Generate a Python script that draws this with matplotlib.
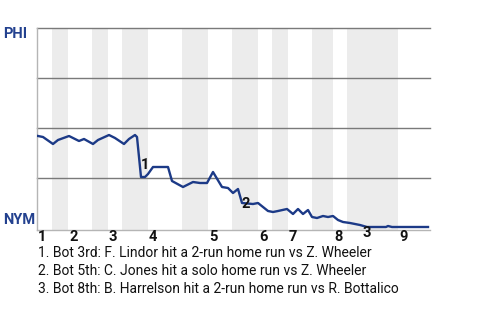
import matplotlib
matplotlib.use("Agg")
import matplotlib.pyplot as plt
from matplotlib.transforms import blended_transform_factory

plt.rcParams['font.family'] = ['Roboto', 'DejaVu Sans']

# event position (plate appearance axis) and PHI win probability
ev_x = [1, 6, 16, 21, 32, 42, 47, 56, 61, 72, 78, 87, 92, 98, 100, 104, 108, 111, 116, 131,
        135, 146, 156, 163, 170, 176, 185, 191, 196, 201, 205, 216, 221, 226, 231, 236, 241,
        250, 256, 261, 266, 271, 275, 280, 286, 291, 296, 301, 306, 313, 323, 330, 349, 351,
        355, 391]
phi_wp = [0.46, 0.455, 0.42, 0.44, 0.46, 0.435, 0.445, 0.42, 0.44, 0.465, 0.45, 0.42, 0.445,
          0.465, 0.455, 0.255, 0.255, 0.27, 0.305, 0.305, 0.235, 0.205, 0.23, 0.225, 0.225,
          0.28, 0.205, 0.2, 0.175, 0.195, 0.125, 0.12, 0.125, 0.105, 0.085, 0.08, 0.085,
          0.095, 0.07, 0.095, 0.07, 0.09, 0.055, 0.05, 0.06, 0.055, 0.06, 0.04, 0.03, 0.025,
          0.015, 0.005, 0.005, 0.01, 0.005, 0.005]

# half-inning boundaries (top 1st .. top 9th)
half_starts = [0, 15, 31, 55, 71, 85, 111, 145, 171, 195, 221, 235, 251, 275, 296, 310, 361, 393]
innings = ['1', '2', '3', '4', '5', '6', '7', '8', '9']

# key events: label, x, y
key_lbl = ['1', '2', '3']
key_x = [108, 209, 330]
key_y = [0.315, 0.12, -0.025]
notes = ["1. Bot 3rd: F. Lindor hit a 2-run home run vs Z. Wheeler",
         "2. Bot 5th: C. Jones hit a solo home run vs Z. Wheeler",
         "3. Bot 8th: B. Harrelson hit a 2-run home run vs R. Bottalico"]

fig = plt.figure(figsize=(4.8, 3.2), dpi=100)
ax = fig.add_axes([37/480, 1-230/320, 393/480, 202/320])
ax.set_xlim(0, 393)
ax.set_ylim(-0.01, 1.0)

# bottom halves shaded
for i in range(1, len(half_starts)-1, 2):
    ax.axvspan(half_starts[i], half_starts[i+1], color='#ececec', lw=0, zorder=0)

for g in [0.25, 0.5, 0.75, 1.0]:
    ax.axhline(g, color='#7a7a7a', lw=1, zorder=1, clip_on=False)

ax.plot(ev_x, phi_wp, color='#1c3a87', lw=1.7, zorder=3, solid_joinstyle='round')

for s in ['top', 'right']:
    ax.spines[s].set_visible(False)
for s in ['left', 'bottom']:
    ax.spines[s].set_color('#b5b5b5')
    ax.spines[s].set_linewidth(1)
ax.set_xticks([])
ax.set_yticks([])

tr = blended_transform_factory(ax.transData, ax.transAxes)
for k, lab in enumerate(innings):
    ax.text(half_starts[2*k] + 1, -7/202, lab, transform=tr, ha='left', va='center',
            fontsize=10.5, fontweight='bold', color='#111111')

for lab, x, y in zip(key_lbl, key_x, key_y):
    ax.text(x, y, lab, ha='center', va='center', fontsize=10.5, fontweight='bold',
            color='#111111', zorder=4, clip_on=False)

fig.text(3/480, 1-34/320, 'PHI', ha='left', va='center', fontsize=10.5,
         fontweight='bold', color='#23418f')
fig.text(3/480, 1-220/320, 'NYM', ha='left', va='center', fontsize=10.5,
         fontweight='bold', color='#23418f')

for k, t in enumerate(notes):
    fig.text(38/480, 1-(253 + 18*k)/320, t, ha='left', va='center', fontsize=10,
             color='#111111')

fig.savefig('out.png', dpi=100)
